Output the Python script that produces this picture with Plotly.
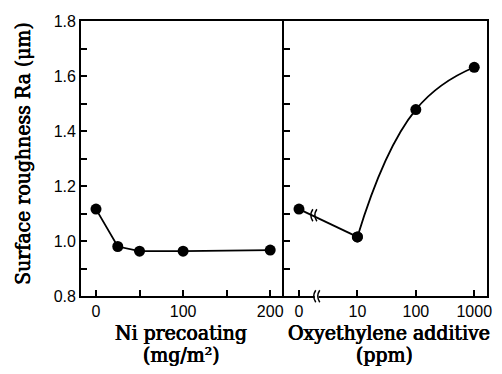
import plotly.graph_objects as go

# ---- data ----
ni_x = [0, 25, 50, 100, 200]
ni_y = [1.117, 0.981, 0.964, 0.964, 0.968]
ni_ticks = [0, 50, 100, 150, 200]
ni_ticktext = ["0", "", "100", "", "200"]

oxy_labels = ["0", "10", "100", "1000"]
oxy_pos = [0, 1, 2, 3]          # 0, then decades 10, 100, 1000
oxy_y = [1.117, 1.016, 1.479, 1.633]

y_ticks = [0.8, 0.9, 1.0, 1.1, 1.2, 1.3, 1.4, 1.5, 1.6, 1.7, 1.8]
y_ticktext = ["0.8", "", "1.0", "", "1.2", "", "1.4", "", "1.6", "", "1.8"]

W, H = 502, 374
L, M, R = 82, 287, 492
T, B = 14, 302

title_font = dict(family="DejaVu Serif Condensed, Liberation Mono, monospace", size=21,
                  color="black", shadow="0.4px 0 0 black, -0.4px 0 0 black")
tick_font = dict(family="Liberation Sans, Arial, sans-serif", size=16, color="black")

fig = go.Figure()
mk = dict(size=11, color="black")
ln = dict(color="black", width=1.8)

fig.add_trace(go.Scatter(x=ni_x, y=ni_y, mode="lines+markers", marker=mk, line=ln,
                         xaxis="x", yaxis="y", showlegend=False))
fig.add_trace(go.Scatter(x=oxy_pos[:2], y=oxy_y[:2], mode="lines+markers", marker=mk, line=ln,
                         xaxis="x2", yaxis="y2", showlegend=False))
fig.add_trace(go.Scatter(x=oxy_pos[1:], y=oxy_y[1:], mode="lines+markers", marker=mk,
                         line=dict(color="black", width=1.8, shape="spline", smoothing=1.3),
                         xaxis="x2", yaxis="y2", showlegend=False))

ax_common = dict(showline=True, linecolor="black", linewidth=2,
                 ticks="inside", ticklen=6, tickwidth=1.5, tickcolor="black",
                 showgrid=False, zeroline=False, tickfont=tick_font)

fig.update_layout(
    width=W, height=H, margin=dict(l=0, r=0, t=0, b=0),
    paper_bgcolor="white", plot_bgcolor="white",
    xaxis=dict(domain=[L / W, M / W], range=[-17, 216], tickvals=ni_ticks,
               ticktext=ni_ticktext, anchor="y", mirror=True, **ax_common),
    yaxis=dict(domain=[(H - B) / H, (H - T) / H], range=[0.8, 1.8], tickvals=y_ticks,
               ticktext=y_ticktext, anchor="x", mirror=False, **ax_common),
    xaxis2=dict(domain=[M / W, R / W], range=[-0.254, 3.22], tickvals=oxy_pos,
                ticktext=oxy_labels, anchor="y2", mirror=True, **ax_common),
    yaxis2=dict(domain=[(H - B) / H, (H - T) / H], range=[0.8, 1.8], tickvals=y_ticks,
                showticklabels=False, anchor="x2", mirror=True, **ax_common),
)

# axis titles
def title(text, xc, yc, angle=0):
    fig.add_annotation(text=text, x=xc / W, y=(H - yc) / H, xref="paper", yref="paper",
                       xanchor="center", yanchor="middle", textangle=angle,
                       showarrow=False, font=title_font)

title("Ni precoating", 183, 340)
title("(mg/m²)", 183, 364)
title("Oxyethylene additive", 393, 340)
title("(ppm)", 388, 364)
title("Surface roughness Ra (μm)", 23, 152, -90)

# break marks
brk_axis = 0.27
brk_f = 0.22
bx = oxy_pos[0] + brk_f * (oxy_pos[1] - oxy_pos[0])
by = oxy_y[0] + brk_f * (oxy_y[1] - oxy_y[0])
arcs = "M 1,-6 Q -3,0 1,6 M 5,-6 Q 1,0 5,6"
fig.add_shape(type="rect", xref="x2", yref="y2 domain", xsizemode="pixel", ysizemode="pixel",
              xanchor=brk_axis, yanchor=0, x0=0, x1=4, y0=-2, y1=2,
              fillcolor="white", line=dict(width=0))
fig.add_shape(type="path", xref="x2", yref="y2 domain", xsizemode="pixel", ysizemode="pixel",
              xanchor=brk_axis, yanchor=0, path=arcs, line=dict(color="black", width=1.5))
fig.add_shape(type="path", xref="x2", yref="y2", xsizemode="pixel", ysizemode="pixel",
              xanchor=bx, yanchor=by, path=arcs, line=dict(color="black", width=1.5))

fig.write_html("out.html", config={"displayModeBar": False},
               post_script="document.body.style.margin='0';document.body.style.overflow='hidden';")
